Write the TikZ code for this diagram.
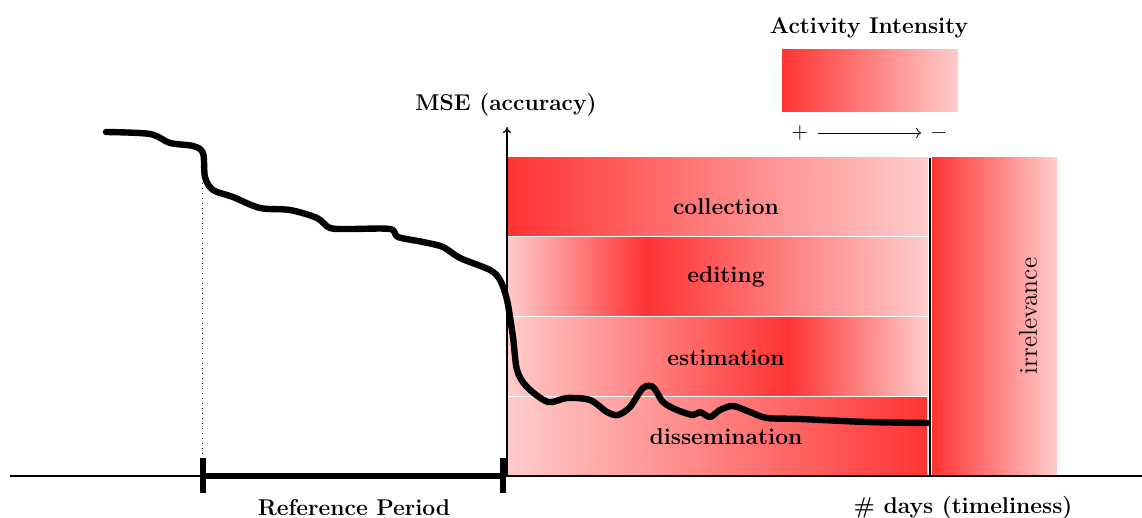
\documentclass[tikz,border=0pt]{standalone}
\usetikzlibrary{arrows.meta}
\begin{document}
\begin{tikzpicture}[x=0.5pt,y=-0.5pt,
  font=\fontsize{11.4}{13}\selectfont\bfseries,
  lbl/.style={inner sep=1pt},
  curve/.style={line width=3.2pt,line cap=round,line join=round},
  refbar/.style={line width=2.6pt},
  axis/.style={line width=0.6pt}]
\useasboundingbox (0,0) rectangle (1142,518);
% phases
\shade[left color=red!80,right color=red!20] (507,158) rectangle (928,236);
\shade[left color=red!20,right color=red!80] (507,238) rectangle (646,316);
\shade[left color=red!80,right color=red!20] (645.5,238) rectangle (928,316);
\shade[left color=red!20,right color=red!80] (507,318) rectangle (788,396);
\shade[left color=red!80,right color=red!20] (787.5,318) rectangle (928,396);
\shade[left color=red!20,right color=red!80] (507,398) rectangle (927,476);
% irrelevance
\shade[left color=red!80,right color=red!20] (932,158) rectangle (1057,476);
\coordinate (vt) at (930,158);
\coordinate (vb) at (930,476);
\draw[axis] (vt) -- (vb);
% labels of phases
\node[lbl] (coll) at (726,207) {collection};
\node[lbl] (edit) at (726,277) {editing};
\node[lbl] (esti) at (726,358) {estimation};
\node[lbl] (diss) at (726,437) {dissemination};
\node[lbl,rotate=90,font=\fontsize{12.8}{14}\selectfont] (irr) at (1028,316) {irrelevance};
% axes
\coordinate (o) at (507,476);
\coordinate (ytop) at (507,127);
\coordinate (xl) at (10,476);
\coordinate (xr) at (1142,476);
\draw[axis] (xl) -- (xr);
\draw[axis,-{To[length=3pt,width=4pt]}] (o) -- (ytop);
\node[lbl] (mse) at (506,105) {MSE (accuracy)};
\node[lbl] (days) at (963,508) {\# days (timeliness)};
% reference period
\coordinate (r1) at (203,476);
\coordinate (r2) at (503,476);
\coordinate (r1t) at (203,458);
\coordinate (r1b) at (203,493);
\coordinate (r2t) at (503,458);
\coordinate (r2b) at (503,493);
\coordinate (dtop) at (202,153);
\coordinate (dbot) at (202,458);
\draw[dotted,line width=0.5pt] (dtop) -- (dbot);
\draw[refbar] (r1) -- (r2);
\draw[refbar] (r1t) -- (r1b);
\draw[refbar] (r2t) -- (r2b);
\node[lbl] (refp) at (354,508) {Reference Period};
% legend
\node[lbl] (title) at (869,28) {Activity Intensity};
\shade[left color=red!80,right color=red!20] (782,50) rectangle (958,112);
\node[inner sep=0pt,font=\fontsize{11.4}{13}\selectfont] (plus) at (800,133) {$+$};
\node[inner sep=0pt,font=\fontsize{11.4}{13}\selectfont] (minus) at (939,133) {$-$};
\draw[line width=0.4pt,->,shorten <=4.5pt,shorten >=4.5pt] (plus.east) -- (minus.west);
% curve
\draw[curve] plot[smooth,tension=0.5] coordinates {
(106,132) (150,134) (170,143) (193,146) (203,153) (205,177) (213,190)
(233,197) (260,208) (290,210) (317,218) (330,228) (350,229) (390,229)
(398,237) (423,242) (443,247) (460,258) (490,270) (500,280) (507,300)
(513,337) (517,370) (527,387) (548,402) (567,398) (590,400) (607,412)
(618,415) (630,407) (643,388) (653,387) (663,402) (677,410) (693,415)
(700,412) (710,417) (720,410) (733,406) (750,412) (767,418) (800,419)
(867,422) (928,423)};
\end{tikzpicture}
\end{document}
